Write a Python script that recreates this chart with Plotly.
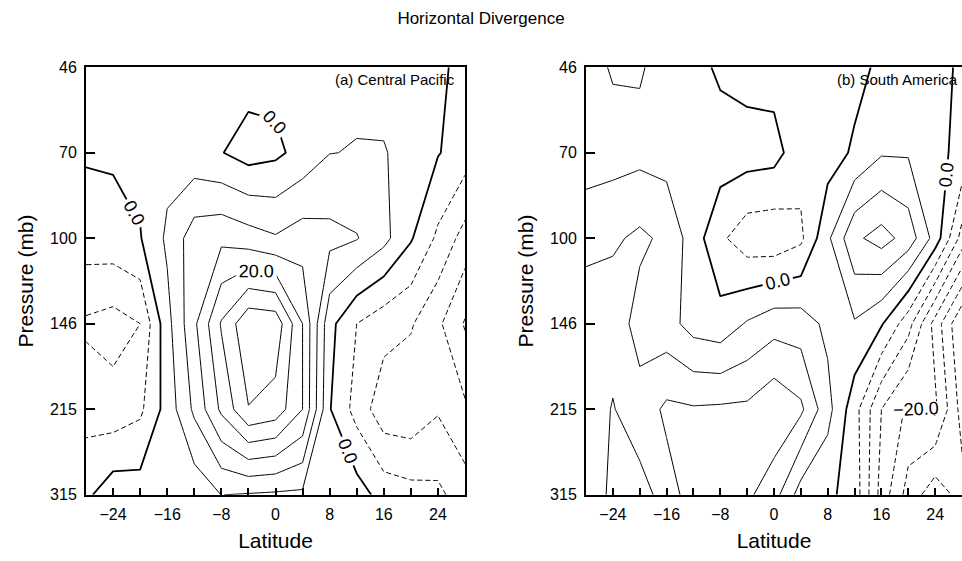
import plotly.graph_objects as go

# ---------------- data ----------------
latitudes = [-28, -24, -20, -16, -12, -8, -4, 0, 4, 8, 12, 16, 20, 24, 28]
pressure_levels = [46, 70, 100, 146, 215, 315]          # tick labels (mb)
level_index = list(range(len(pressure_levels)))        # equally spaced model levels
lat_ticks = [-24, -16, -8, 0, 8, 16, 24]

# (a) Central Pacific : divergence at each pressure level (rows) and latitude (columns)
cp_46 = [2, 2.5, 3, 3, 2.5, 2, 2.3, 1.7, 3, 4, 4, 3.5, 2.5, 1, -1.5]
cp_70 = [0.5, 0.7, 1.5, 3.3, 1.7, 0.2, -2.1, -1.04, 1.7, 4.9, 5.2, 5.24, 3.6, 0.3, -2.5]
cp_100 = [-2.4, -2, -0.3, 5.9, 12.7, 13.8, 12.2, 10.5, 12.5, 11.5, 10.3, 6.5, 0.5, -6, -12]
cp_146 = [-10.8, -12, -10, 3.3, 14, 25.5, 34, 33.3, 20, 1.5, -5, -8, -9.5, -14, -20.5]
cp_215 = [-7, -8, -6, 2, 11, 21, 29.8, 28, 20, 0.3, -6.9, -13.1, -13.6, -10.5, -14.2]
cp_315 = [-1, 3, 2.5, 3, 1.6, 5.05, 4.6, 4.2, 4, 3, 2.3, -2, -3.2, -3.9, -7.6]

# (b) South America
sa_46 = [3, 5.5, 5.5, 3, 2, -1, -2, -2, -2.5, -2, -1.5, 1, 3, 2, -1]
sa_70 = [2, 3, 3.5, 3, 2.5, 2.7, 2.3, 1.8, -3.1, -2.3, 0.74, 4.5, 4.5, 1, -1]
sa_100 = [9, 9.2, 11, 8.9, 2.5, -4, -8, -8.5, -6, 4, 14, 17, 13, 3, -12]
sa_146 = [12, 13, 8, 7, 3, 1.9, 5.5, 8, 7.5, 3.8, 4.5, 0.5, -8, -22, -35]
sa_215 = [12, 15.3, 12, 16, 15.5, 15.8, 16, 19, 16, 6.7, -3, -15, -21, -19, -32]
sa_315 = [12, 16, 17, 13, 17, 17, 16, 12, 2.7, 1, -2, -17, -27, -33, -28]

panel_titles = ["(a) Central Pacific", "(b) South America"]
panel_data = [
    [cp_46, cp_70, cp_100, cp_146, cp_215, cp_315],
    [sa_46, sa_70, sa_100, sa_146, sa_215, sa_315],
]
# labelled level per panel (besides 0)
labelled = [20, -20]
interval = 5

# ---------------- figure ----------------
FONT = "Arial, Liberation Sans, sans-serif"
fig = go.Figure()


def add_levels(z, xa, ya, start, end, dash, width, labels):
    if start > end:
        return
    fig.add_trace(go.Contour(
        x=latitudes, y=level_index, z=z,
        xaxis=xa, yaxis=ya,
        autocontour=False,
        contours=dict(start=start, end=end, size=interval, coloring="none",
                      showlabels=labels,
                      labelfont=dict(family=FONT, size=18, color="black"),
                      labelformat=".1f"),
        line=dict(color="black", width=width, dash=dash, smoothing=0),
        showscale=False, hoverinfo="skip",
    ))


DASH = "5px,3px"
for p, z in enumerate(panel_data):
    xa = "x" if p == 0 else "x2"
    ya = "y" if p == 0 else "y2"
    lab = labelled[p]
    # negative levels (dashed)
    if lab < 0:
        add_levels(z, xa, ya, -45, lab - interval, DASH, 1, False)
        add_levels(z, xa, ya, lab, lab, DASH, 1, True)
        add_levels(z, xa, ya, lab + interval, -interval, DASH, 1, False)
    else:
        add_levels(z, xa, ya, -45, -interval, DASH, 1, False)
    # positive levels (solid)
    if lab > 0:
        add_levels(z, xa, ya, interval, lab - interval, "solid", 1, False)
        add_levels(z, xa, ya, lab, lab, "solid", 1, True)
        add_levels(z, xa, ya, lab + interval, 45, "solid", 1, False)
    else:
        add_levels(z, xa, ya, interval, 45, "solid", 1, False)
    # zero line (bold, labelled)
    add_levels(z, xa, ya, 0, 0, "solid", 1.8, True)

W, H = 962, 561
ytop, ybot = 61, 502
ydom = [1 - ybot / H, 1 - ytop / H]
xdoms = [[86 / W, 465 / W], [586 / W, 1.0]]

axis_common = dict(showgrid=False, zeroline=False, showline=True, linecolor="black",
                   linewidth=2, ticks="inside", tickcolor="black",
                   tickfont=dict(family=FONT, size=16, color="black"))

for p in range(2):
    sx = "" if p == 0 else "2"
    fig.update_layout(**{
        "xaxis" + sx: dict(axis_common, domain=xdoms[p], range=[-28, 28],
                           tickvals=lat_ticks, ticklen=7, tickwidth=1.5,
                           minor=dict(tickvals=latitudes, ticks="inside", ticklen=7,
                                      tickcolor="black", tickwidth=1.5),
                           mirror=True, anchor="y" + sx, ticklabelstandoff=4,
                           title=dict(text="Latitude", standoff=11,
                                      font=dict(family=FONT, size=21, color="black"))),
        "yaxis" + sx: dict(axis_common, domain=ydom, range=[5, 0],
                           tickvals=level_index, ticktext=[str(v) for v in pressure_levels],
                           ticklen=9, tickwidth=1.5, mirror=(p == 0), anchor="x" + sx,
                           ticklabelstandoff=4,
                           title=dict(text="Pressure (mb)", standoff=11,
                                      font=dict(family=FONT, size=21, color="black"))),
    })
    fig.add_annotation(text=panel_titles[p], xref="x" + sx + " domain", yref="y" + sx + " domain",
                       x=0.98 if p == 0 else 0.995, y=0.995, xanchor="right", yanchor="top",
                       showarrow=False, font=dict(family=FONT, size=15, color="black"))

fig.update_layout(
    width=W, height=H,
    margin=dict(l=0, r=0, t=0, b=0),
    paper_bgcolor="white", plot_bgcolor="white",
    showlegend=False,
    title=dict(text="Horizontal Divergence", x=0.5, xanchor="center",
               y=1 - 18 / H, yanchor="middle", yref="container",
               font=dict(family=FONT, size=17, color="black")),
)

fig.write_html("out.html")
